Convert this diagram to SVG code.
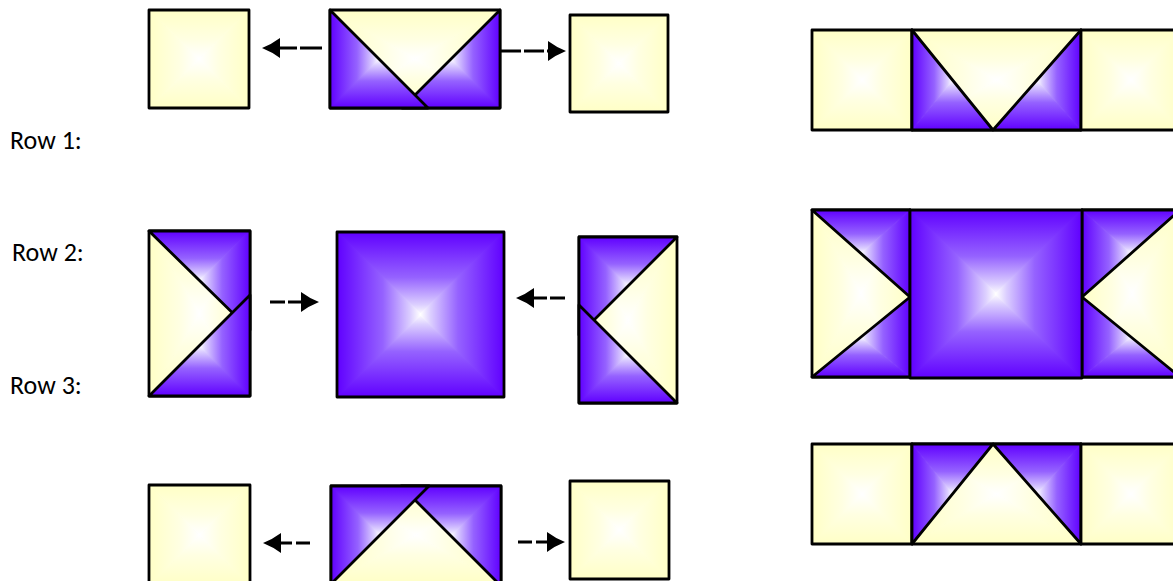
<svg xmlns="http://www.w3.org/2000/svg" width="1173" height="581" viewBox="0 0 1173 581">
<style>
.s{stroke:#000;stroke-width:2.8;stroke-linejoin:round}
.p{fill:url(#purp)}
.y{fill:url(#yel)}
.a{fill:none;stroke:#000;stroke-width:3.2}
.lbl{font-family:Carlito,Lato,"Liberation Sans",sans-serif;font-size:26px;fill:#000}
</style>
<defs>
<linearGradient id="pT" x1="0" y1="0" x2="0" y2="1"><stop offset="0" stop-color="#6000FF"/><stop offset="0.55" stop-color="#9562FF"/><stop offset="0.88" stop-color="#DCCFFF"/><stop offset="1" stop-color="#FFFFFF"/></linearGradient>
<linearGradient id="pB" href="#pT" x1="0" y1="1" x2="0" y2="0"/>
<linearGradient id="pL" href="#pT" x1="0" y1="0" x2="1" y2="0"/>
<linearGradient id="pR" href="#pT" x1="1" y1="0" x2="0" y2="0"/>
<linearGradient id="yT" x1="0" y1="0" x2="0" y2="1"><stop offset="0" stop-color="#FFFFC6"/><stop offset="0.6" stop-color="#FFFFE2"/><stop offset="1" stop-color="#FFFFFF"/></linearGradient>
<linearGradient id="yB" href="#yT" x1="0" y1="1" x2="0" y2="0"/>
<linearGradient id="yL" href="#yT" x1="0" y1="0" x2="1" y2="0"/>
<linearGradient id="yR" href="#yT" x1="1" y1="0" x2="0" y2="0"/>
<pattern id="purp" width="1" height="1" patternContentUnits="objectBoundingBox">
<polygon points="0,0 1,0 0.5,0.5" fill="url(#pT)" stroke="url(#pT)" stroke-width="0.01"/>
<polygon points="0,1 1,1 0.5,0.5" fill="url(#pB)" stroke="url(#pB)" stroke-width="0.01"/>
<polygon points="0,0 0,1 0.5,0.5" fill="url(#pL)" stroke="url(#pL)" stroke-width="0.01"/>
<polygon points="1,0 1,1 0.5,0.5" fill="url(#pR)" stroke="url(#pR)" stroke-width="0.01"/>
</pattern>
<pattern id="yel" width="1" height="1" patternContentUnits="objectBoundingBox">
<polygon points="0,0 1,0 0.5,0.5" fill="url(#yT)" stroke="url(#yT)" stroke-width="0.01"/>
<polygon points="0,1 1,1 0.5,0.5" fill="url(#yB)" stroke="url(#yB)" stroke-width="0.01"/>
<polygon points="0,0 0,1 0.5,0.5" fill="url(#yL)" stroke="url(#yL)" stroke-width="0.01"/>
<polygon points="1,0 1,1 0.5,0.5" fill="url(#yR)" stroke="url(#yR)" stroke-width="0.01"/>
</pattern>
<marker id="ah" markerUnits="userSpaceOnUse" markerWidth="20" markerHeight="24" refX="1" refY="12" orient="auto" overflow="visible">
<path d="M0,2 Q8,8 18,12 Q8,16 0,22 Z" fill="#000"/>
</marker>
</defs>

<g id="labels">
<text class="lbl" x="10" y="149">Row 1:</text>
<text class="lbl" x="12" y="261">Row 2:</text>
<text class="lbl" x="10" y="394">Row 3:</text>
</g>

<!-- Row 1 -->
<g id="r1-left"><rect class="y s" x="149" y="10" width="100" height="98"/></g>
<g id="r1-mid">
<rect class="y s" x="330" y="10" width="170" height="98"/>
<polygon class="p s" points="500,10 500,108 402,108"/>
<polygon class="p s" points="330,10 330,108 428,108"/>
</g>
<g id="r1-right"><rect class="y s" x="570" y="15" width="98" height="97"/></g>

<!-- Row 2 -->
<g id="r2-left">
<rect class="y s" x="149" y="231" width="101" height="165"/>
<polygon class="p s" points="149,231 250,231 250,330"/>
<polygon class="p s" points="250,295 250,396 149,396"/>
</g>
<g id="r2-mid"><rect class="p s" x="337" y="232" width="167" height="165"/></g>
<g id="r2-right">
<rect class="y s" x="579" y="237" width="98" height="166"/>
<polygon class="p s" points="579,237 677,237 579,335"/>
<polygon class="p s" points="579,305 677,403 579,403"/>
</g>

<!-- Row 3 -->
<g id="r3-left"><rect class="y s" x="149" y="485" width="101" height="100"/></g>
<g id="r3-mid">
<rect class="y s" x="331" y="486" width="170" height="98"/>
<polygon class="p s" points="401,486 501,486 501,586"/>
<polygon class="p s" points="331,486 429,486 331,584"/>
</g>
<g id="r3-right"><rect class="y s" x="570" y="481" width="99" height="98"/></g>

<!-- Combined results -->
<g id="c1">
<g id="c1-left"><rect class="y s" x="812" y="30" width="100" height="100"/></g>
<g id="c1-mid">
<rect class="y s" x="912" y="30" width="169" height="100"/>
<polygon class="p s" points="912,30 993,130 912,130"/>
<polygon class="p s" points="1081,30 1081,130 993,130"/>
</g>
<g id="c1-right"><rect class="y s" x="1081" y="30" width="100" height="100"/></g>
</g>

<g id="c2">
<g id="c2-left">
<rect class="y s" x="812" y="210" width="98" height="167"/>
<polygon class="p s" points="812,210 910,210 910,297"/>
<polygon class="p s" points="910,297 910,377 812,377"/>
</g>
<g id="c2-right">
<rect class="y s" x="1082" y="210" width="100" height="167"/>
<polygon class="p s" points="1082,210 1180,210 1082,297"/>
<polygon class="p s" points="1082,297 1180,377 1082,377"/>
</g>
<g id="c2-mid"><rect class="p s" x="910" y="210" width="172" height="168"/></g>
</g>

<g id="c3">
<g id="c3-left"><rect class="y s" x="812" y="444" width="100" height="100"/></g>
<g id="c3-mid">
<rect class="y s" x="912" y="444" width="169" height="100"/>
<polygon class="p s" points="912,444 993,444 912,544"/>
<polygon class="p s" points="993,444 1081,444 1081,544"/>
</g>
<g id="c3-right"><rect class="y s" x="1081" y="444" width="100" height="100"/></g>
</g>

<g id="connectors">
<path class="a" d="M322,48 H279" stroke-dasharray="22 3" marker-end="url(#ah)"/>
<path class="a" d="M501,51 H549" stroke-dasharray="20 3" marker-end="url(#ah)"/>
<path class="a" d="M270,302 H302" stroke-dasharray="15 3" marker-end="url(#ah)"/>
<path class="a" d="M565,298 H533" stroke-dasharray="15 3" marker-end="url(#ah)"/>
<path class="a" d="M310,543 H280" stroke-dasharray="14 4" marker-end="url(#ah)"/>
<path class="a" d="M518,542 H548" stroke-dasharray="14 4" marker-end="url(#ah)"/>
</g>
</svg>
